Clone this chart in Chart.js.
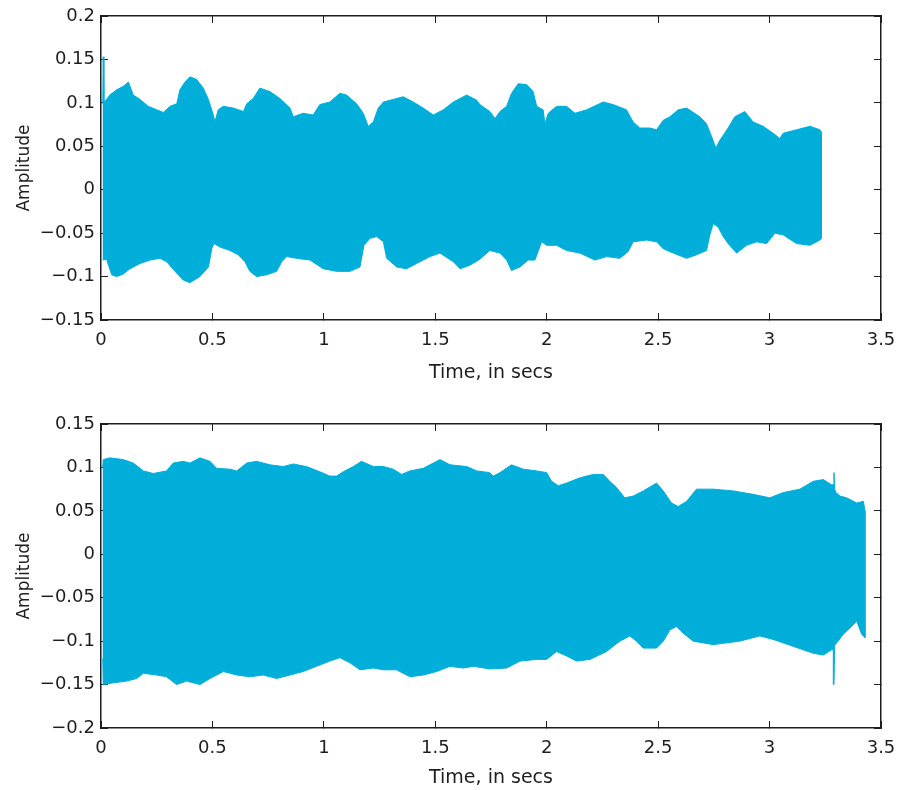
<!DOCTYPE html>
<html><head><meta charset="utf-8">
<script src="https://cdn.jsdelivr.net/npm/chart.js@4.4.1/dist/chart.umd.min.js"></script>
<style>
html,body{margin:0;padding:0;background:#fff;}
body{width:903px;height:790px;position:relative;overflow:hidden;}
canvas{position:absolute;left:0;}
#c1{top:0;}
#c2{top:400px;}
</style></head><body>
<canvas id="c1" width="903" height="400"></canvas>
<canvas id="c2" width="903" height="390"></canvas>
<script>
// ---------- DATA (envelope of the waveform) ----------
const xTicks = [0, 0.5, 1, 1.5, 2, 2.5, 3, 3.5];
const xTickLabels = ['0', '0.5', '1', '1.5', '2', '2.5', '3', '3.5'];

const topYTicks = [-0.15, -0.1, -0.05, 0, 0.05, 0.1, 0.15, 0.2];
const topYTickLabels = ['\u22120.15', '\u22120.1', '\u22120.05', '0', '0.05', '0.1', '0.15', '0.2'];
const bottomYTicks = [-0.2, -0.15, -0.1, -0.05, 0, 0.05, 0.1, 0.15];
const bottomYTickLabels = ['\u22120.2', '\u22120.15', '\u22120.1', '\u22120.05', '0', '0.05', '0.1', '0.15'];

// Top panel: upper envelope
const topUpperTime = [0.008,0.010,0.013,0.040,0.070,0.100,0.123,0.145,0.175,0.212,0.250,0.280,0.310,0.340,0.354,0.377,0.399,0.429,0.459,0.482,0.504,0.511,0.526,0.549,0.594,0.639,0.654,0.683,0.713,0.758,0.803,0.848,0.863,0.907,0.952,0.982,1.027,1.072,1.102,1.147,1.177,1.199,1.222,1.244,1.267,1.297,1.356,1.401,1.446,1.491,1.536,1.581,1.641,1.686,1.700,1.745,1.768,1.790,1.820,1.842,1.872,1.910,1.939,1.955,1.984,1.992,2.007,2.044,2.089,2.127,2.179,2.254,2.298,2.358,2.388,2.418,2.463,2.493,2.523,2.553,2.590,2.628,2.687,2.717,2.740,2.759,2.777,2.814,2.844,2.889,2.926,2.971,3.016,3.046,3.061,3.121,3.181,3.226,3.233];
const topUpperAmp = [0.099,0.153,0.100,0.109,0.115,0.119,0.124,0.109,0.104,0.096,0.092,0.089,0.096,0.099,0.115,0.124,0.130,0.127,0.117,0.104,0.086,0.078,0.092,0.096,0.094,0.090,0.099,0.105,0.117,0.113,0.105,0.094,0.084,0.088,0.086,0.098,0.101,0.111,0.109,0.099,0.088,0.073,0.078,0.094,0.101,0.103,0.107,0.101,0.094,0.086,0.092,0.101,0.109,0.103,0.098,0.090,0.082,0.090,0.096,0.111,0.122,0.121,0.113,0.096,0.092,0.076,0.088,0.096,0.096,0.088,0.092,0.101,0.098,0.092,0.078,0.071,0.071,0.069,0.080,0.084,0.092,0.094,0.084,0.076,0.061,0.048,0.057,0.071,0.084,0.090,0.078,0.073,0.065,0.059,0.065,0.069,0.073,0.069,0.066];
// Top panel: lower envelope
const topLowerTime = [0.008,0.025,0.048,0.070,0.100,0.130,0.175,0.220,0.265,0.295,0.332,0.369,0.399,0.444,0.482,0.497,0.507,0.534,0.579,0.616,0.646,0.668,0.698,0.743,0.788,0.811,0.833,0.878,0.938,0.997,1.057,1.117,1.162,1.180,1.207,1.237,1.267,1.282,1.327,1.371,1.416,1.476,1.521,1.581,1.611,1.655,1.700,1.745,1.790,1.820,1.842,1.880,1.917,1.947,1.977,2.000,2.044,2.089,2.149,2.216,2.269,2.328,2.366,2.388,2.448,2.493,2.523,2.568,2.628,2.672,2.717,2.732,2.747,2.769,2.792,2.814,2.852,2.897,2.942,2.987,3.024,3.061,3.121,3.181,3.226,3.233];
const topLowerAmp = [-0.081,-0.080,-0.098,-0.100,-0.097,-0.091,-0.085,-0.081,-0.079,-0.083,-0.094,-0.104,-0.107,-0.100,-0.089,-0.068,-0.062,-0.066,-0.070,-0.075,-0.083,-0.094,-0.100,-0.098,-0.094,-0.083,-0.077,-0.079,-0.081,-0.091,-0.094,-0.094,-0.089,-0.064,-0.056,-0.054,-0.060,-0.079,-0.089,-0.091,-0.085,-0.077,-0.073,-0.083,-0.091,-0.087,-0.080,-0.070,-0.073,-0.081,-0.093,-0.089,-0.081,-0.081,-0.060,-0.064,-0.064,-0.070,-0.073,-0.081,-0.077,-0.079,-0.071,-0.060,-0.058,-0.060,-0.068,-0.073,-0.079,-0.075,-0.070,-0.052,-0.039,-0.043,-0.054,-0.062,-0.073,-0.064,-0.060,-0.062,-0.050,-0.052,-0.062,-0.064,-0.058,-0.056];

// Bottom panel: upper envelope
const bottomUpperTime = [0.008,0.010,0.040,0.100,0.145,0.190,0.235,0.294,0.324,0.369,0.399,0.444,0.489,0.519,0.579,0.609,0.654,0.698,0.758,0.818,0.863,0.922,0.982,1.027,1.057,1.087,1.132,1.169,1.222,1.267,1.311,1.349,1.386,1.446,1.491,1.521,1.566,1.641,1.686,1.745,1.760,1.790,1.842,1.895,1.955,2.000,2.022,2.052,2.089,2.149,2.209,2.254,2.283,2.313,2.350,2.388,2.433,2.493,2.523,2.560,2.590,2.628,2.672,2.747,2.837,2.926,3.001,3.061,3.136,3.196,3.241,3.278,3.286,3.289,3.292,3.298,3.316,3.346,3.391,3.421,3.428];
const bottomUpperAmp = [0.100,0.109,0.111,0.109,0.105,0.096,0.093,0.096,0.105,0.107,0.105,0.111,0.107,0.099,0.098,0.096,0.105,0.107,0.103,0.101,0.104,0.101,0.095,0.090,0.090,0.095,0.101,0.107,0.101,0.101,0.098,0.092,0.096,0.099,0.105,0.109,0.103,0.101,0.096,0.094,0.090,0.094,0.103,0.098,0.096,0.094,0.084,0.079,0.082,0.088,0.092,0.092,0.084,0.077,0.065,0.067,0.073,0.082,0.073,0.059,0.055,0.061,0.075,0.075,0.073,0.069,0.065,0.071,0.075,0.084,0.086,0.080,0.080,0.094,0.075,0.071,0.067,0.065,0.059,0.061,0.050];
// Bottom panel: lower envelope
const bottomLowerTime = [0.008,0.010,0.055,0.115,0.160,0.190,0.250,0.294,0.339,0.384,0.444,0.489,0.549,0.609,0.668,0.728,0.788,0.848,0.907,0.967,1.027,1.072,1.117,1.162,1.222,1.267,1.326,1.386,1.446,1.506,1.566,1.626,1.671,1.745,1.820,1.880,1.955,2.000,2.044,2.089,2.134,2.194,2.268,2.328,2.373,2.403,2.433,2.493,2.523,2.553,2.583,2.613,2.657,2.747,2.866,2.956,3.016,3.106,3.196,3.241,3.278,3.286,3.289,3.292,3.301,3.331,3.376,3.391,3.413,3.428];
const bottomLowerAmp = [-0.120,-0.150,-0.148,-0.146,-0.143,-0.137,-0.139,-0.141,-0.150,-0.146,-0.150,-0.143,-0.135,-0.139,-0.141,-0.139,-0.143,-0.139,-0.135,-0.129,-0.123,-0.119,-0.125,-0.133,-0.131,-0.133,-0.133,-0.141,-0.139,-0.135,-0.129,-0.131,-0.129,-0.132,-0.131,-0.123,-0.121,-0.121,-0.112,-0.117,-0.123,-0.121,-0.112,-0.100,-0.094,-0.100,-0.108,-0.108,-0.100,-0.087,-0.083,-0.091,-0.100,-0.104,-0.100,-0.094,-0.098,-0.106,-0.114,-0.116,-0.110,-0.110,-0.150,-0.105,-0.102,-0.092,-0.081,-0.077,-0.092,-0.096];

// ---------- STYLE ----------
const WAVE = '#00AEDA';
const INK = '#1e1e1e';
const FONT = 'DejaVu Sans';

function envelopePolygon(ut, ua, lt, la) {
  const pts = ut.map((t, i) => ({x: t, y: ua[i]}));
  for (let i = lt.length - 1; i >= 0; i--) pts.push({x: lt[i], y: la[i]});
  return pts;
}

function zeroPad(s) { s.paddingTop = 0; s.paddingBottom = 0; s.paddingLeft = 0; s.paddingRight = 0; }

function makeChart(id, poly, yMin, yMax, yTicks, yLabels, padTop, xAxisH, xTitlePad) {
  const setTicks = (vals) => (s) => { s.ticks = vals.map(v => ({value: v})); };
  const gridOpts = {drawOnChartArea: false, drawTicks: true, tickLength: -7, color: INK, lineWidth: 1};
  const borderOpts = {display: true, color: INK, width: 1.5};
  return new Chart(document.getElementById(id), {
    type: 'scatter',
    data: {datasets: [{
      data: poly,
      showLine: true,
      fill: 'shape',
      backgroundColor: WAVE,
      borderColor: WAVE,
      borderWidth: 1,
      pointRadius: 0,
      pointHoverRadius: 0,
      tension: 0
    }]},
    options: {
      responsive: false,
      animation: false,
      devicePixelRatio: 1,
      layout: {padding: {top: padTop, right: 22, left: 0, bottom: 0}},
      plugins: {legend: {display: false}, tooltip: {enabled: false}},
      events: [],
      scales: {
        x: {
          type: 'linear', position: 'bottom', min: 0, max: 3.5,
          afterBuildTicks: setTicks(xTicks),
          afterFit: s => { s.height = xAxisH; zeroPad(s); },
          grid: gridOpts, border: borderOpts,
          ticks: {color: INK, font: {family: FONT, size: 18}, padding: 17, maxRotation: 0, autoSkip: false,
                  callback: (v, i) => xTickLabels[i]},
          title: {display: true, text: 'Time, in secs', color: INK, font: {family: FONT, size: 19},
                  padding: {top: 0, bottom: xTitlePad}}
        },
        xTop: {
          type: 'linear', position: 'top', min: 0, max: 3.5,
          afterBuildTicks: setTicks(xTicks),
          afterFit: s => { s.height = 0; zeroPad(s); },
          grid: gridOpts, border: borderOpts,
          ticks: {display: false}
        },
        y: {
          type: 'linear', position: 'left', min: yMin, max: yMax,
          afterBuildTicks: setTicks(yTicks),
          afterFit: s => { s.width = 101; zeroPad(s); },
          grid: gridOpts, border: borderOpts,
          ticks: {color: INK, font: {family: FONT, size: 18}, padding: 13, autoSkip: false,
                  callback: (v, i) => yLabels[i]},
          title: {display: true, text: 'Amplitude', color: INK, font: {family: FONT, size: 17},
                  padding: {top: 14, bottom: 0}}
        },
        yRight: {
          type: 'linear', position: 'right', min: yMin, max: yMax,
          afterBuildTicks: setTicks(yTicks),
          afterFit: s => { s.width = 0; zeroPad(s); },
          grid: gridOpts, border: borderOpts,
          ticks: {display: false}
        }
      }
    }
  });
}

makeChart('c1', envelopePolygon(topUpperTime, topUpperAmp, topLowerTime, topLowerAmp),
  -0.15, 0.2, topYTicks, topYTickLabels, 16, 80, 16);
makeChart('c2', envelopePolygon(bottomUpperTime, bottomUpperAmp, bottomLowerTime, bottomLowerAmp),
  -0.2, 0.15, bottomYTicks, bottomYTickLabels, 24, 62, 1);
</script>
</body></html>
